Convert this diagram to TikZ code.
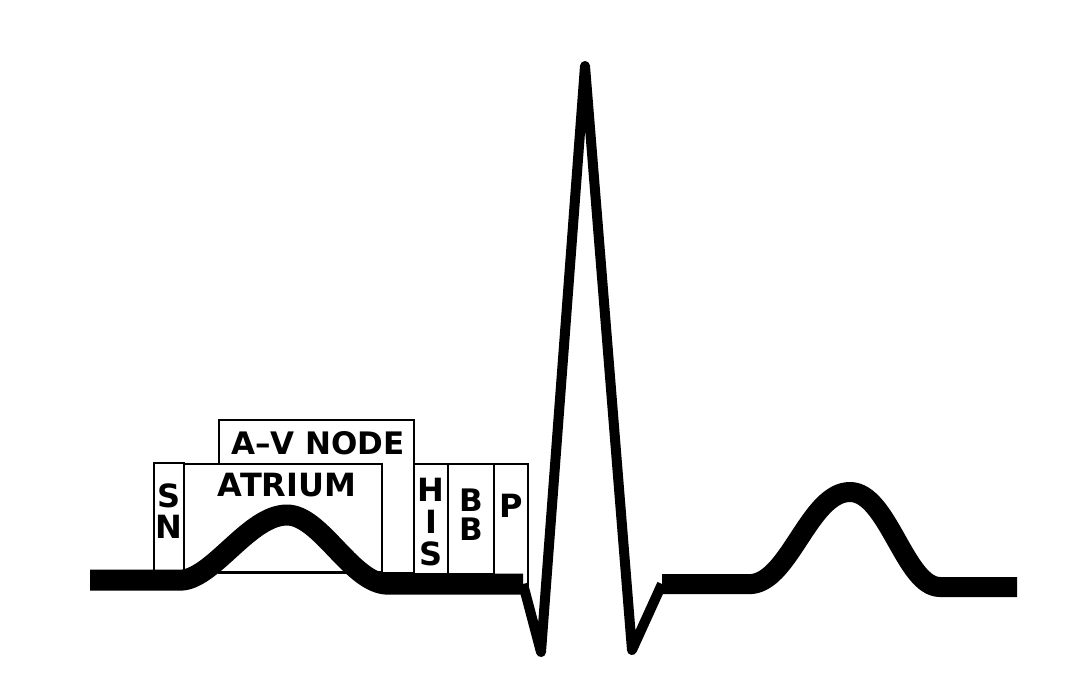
\documentclass[tikz,border=0pt]{standalone}
\usepackage{fontspec}
\setmainfont{DejaVu Sans}
\begin{document}
\begin{tikzpicture}[x=1pt,y=-1pt,
  cellbox/.style={draw=black,line width=2pt,fill=white},
  lbl/.style={inner sep=0pt,anchor=north,align=center,font=\fontsize{32}{32}\selectfont\bfseries},
  wave/.style={draw=black,line join=round,line cap=butt}]
\useasboundingbox (0,0) rectangle (1080,686);
% boxes
\draw[cellbox] (219,420) rectangle (414,573);
\draw[cellbox] (154,463) rectangle (184,572);
\draw[cellbox] (184,464) rectangle (382,572);
\draw[cellbox] (414,464) rectangle (448,574);
\draw[cellbox] (448,464) rectangle (494,574);
\draw[cellbox] (494,464) rectangle (528,586);
% labels
\node[lbl,font=\fontsize{31}{32}\selectfont\bfseries] (av) at (318,431) {A--V NODE};
\node[lbl] (atr) at (287,473) {ATRIUM};
\node[lbl,font=\fontsize{32}{31}\selectfont\bfseries] (sn) at (169,484) {S\\N};
\node[lbl] (his) at (431,478) {H\\I\\S};
\node[lbl,font=\fontsize{31}{29}\selectfont\bfseries] (bb) at (471,489) {B\\B};
\node[lbl] (p) at (511,494) {P};
% waveform
\coordinate (w0) at (90,580);
\coordinate (w1) at (183,580);
\coordinate (pk) at (287,515);
\coordinate (w2) at (385,584);
\coordinate (q0) at (523,584);
\coordinate (q) at (541,652);
\coordinate (r) at (585,66);
\coordinate (s) at (632,650);
\coordinate (s1) at (662,584);
\coordinate (t0) at (752,584);
\coordinate (tp) at (850,492);
\coordinate (t1) at (940,587);
\coordinate (e) at (1017,587);
\draw[wave,line width=21pt] (w0) -- (w1) .. controls (215,576) and (250,515) .. (pk)
  .. controls (320,515) and (350,580) .. (w2) -- (q0);
\draw[wave,line width=10pt] (q0) -- (q) -- (r) -- (s) -- (s1);
\draw[wave,line width=20pt] (s1) -- (t0) .. controls (790,580) and (810,492) .. (tp)
  .. controls (888,492) and (905,587) .. (t1) -- (e);
\end{tikzpicture}
\end{document}
